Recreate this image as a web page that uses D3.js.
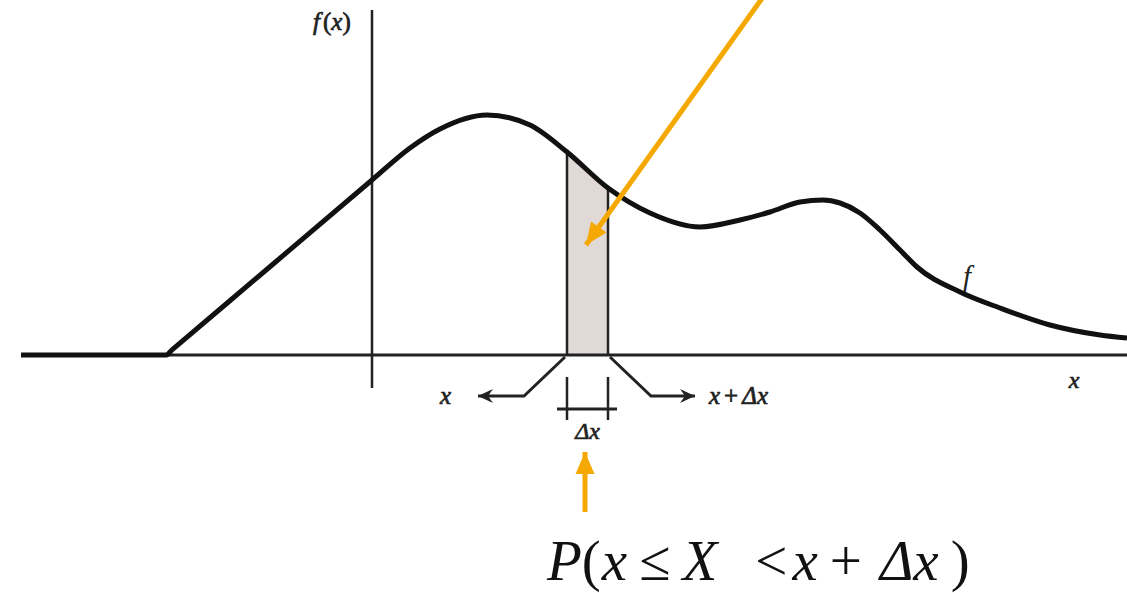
<!DOCTYPE html>
<html>
<head>
<meta charset="utf-8">
<script src="https://cdn.jsdelivr.net/npm/d3@7"></script>
<style>
  body { margin: 0; background: #fff; }
  svg { display: block; }
</style>
</head>
<body>
<svg id="chart" width="1127" height="593"></svg>
<script>
// density curve f(x) (x units arbitrary, f scaled)
var curveX = [-17.55, -10.3, -10.0, -5, 0, 1.9, 3.4, 5.75, 7.9, 9.75, 11.8, 13.9, 16.4, 18.4, 19.9, 21.4, 22.55, 23.4, 24.4, 25.4, 26.4, 27.25, 29.4, 31.4, 33.9, 36.4, 37.75];
var curveF = [0, 0, 0.051, 0.90, 1.75, 2.07, 2.26, 2.40, 2.30, 2.03, 1.67, 1.42, 1.28, 1.35, 1.43, 1.53, 1.55, 1.52, 1.42, 1.25, 1.05, 0.88, 0.63, 0.47, 0.30, 0.20, 0.17];
var band = [9.75, 11.8];           // x .. x + Δx
var axisLabels = ["f(x)", "x", "f"];
// pieces of P(x ≤ X < x + Δx): text, italic?, extra gap before it
var formulaParts = [["P", 1, 0], ["(", 0, 0], ["x", 1, 1], ["\u2264", 0, 12], ["X", 1, 12],
                    ["<", 0, 38], ["x", 1, 5], ["+", 0, 12], ["\u0394x", 1, 18], [")", 0, 12]];

var SERIF = "Liberation Serif";
var svg = d3.select("#chart");
var x = d3.scaleLinear().domain([-17.55, 37.75]).range([21, 1127]);
var y = d3.scaleLinear().domain([0, 3.45]).range([355, 10]);

var data = curveX.map(function(d, i) { return { x: d, f: curveF[i] }; });
function fAt(v) { return curveF[curveX.indexOf(v)]; }

function label(px, py, size, heavy) {
  var t = svg.append("text").attr("x", px).attr("y", py)
    .attr("font-family", SERIF).attr("font-style", "italic")
    .attr("font-size", size).attr("fill", "#222");
  if (heavy) t.attr("stroke", "#222").attr("stroke-width", 0.7);
  return t;
}

var defs = svg.append("defs");
defs.append("clipPath").attr("id", "band")
  .append("rect")
  .attr("x", x(band[0])).attr("y", 0)
  .attr("width", x(band[1]) - x(band[0])).attr("height", y(0));

defs.append("marker").attr("id", "blackHead")
  .attr("markerUnits", "userSpaceOnUse")
  .attr("viewBox", "-16 -8 18 16").attr("refX", 0).attr("refY", 0)
  .attr("markerWidth", 18).attr("markerHeight", 16).attr("orient", "auto")
  .append("path").attr("d", "M0,0 L-15,-7 L-10,0 L-15,7 Z").attr("fill", "#222");

defs.append("marker").attr("id", "orangeHead")
  .attr("markerUnits", "userSpaceOnUse")
  .attr("viewBox", "-24 -11 26 22").attr("refX", 0).attr("refY", 0)
  .attr("markerWidth", 26).attr("markerHeight", 22).attr("orient", "auto")
  .append("path").attr("d", "M0,0 L-22,-9.5 L-22,9.5 Z").attr("fill", "#f5a800");

var area = d3.area().x(function(d) { return x(d.x); }).y0(y(0)).y1(function(d) { return y(d.f); })
  .curve(d3.curveMonotoneX);
var line = d3.line().x(function(d) { return x(d.x); }).y(function(d) { return y(d.f); })
  .curve(d3.curveMonotoneX);

// shaded strip
svg.append("path").datum(data).attr("d", area)
  .attr("clip-path", "url(#band)").attr("fill", "#e0d9d6");

// axes
svg.append("line").attr("x1", x(-17.55)).attr("x2", x(37.75)).attr("y1", y(0)).attr("y2", y(0))
  .attr("stroke", "#222").attr("stroke-width", 3);
svg.append("line").attr("x1", x(0)).attr("x2", x(0)).attr("y1", y(3.45)).attr("y2", y(-0.33))
  .attr("stroke", "#222").attr("stroke-width", 2.5);

// strip edges
svg.selectAll(".edge").data(band).enter().append("line").attr("class", "edge")
  .attr("x1", function(d) { return x(d); }).attr("x2", function(d) { return x(d); })
  .attr("y1", y(0)).attr("y2", function(d) { return y(fAt(d)); })
  .attr("stroke", "#222").attr("stroke-width", 2.5);

// the curve
svg.append("path").datum(data).attr("d", line)
  .attr("fill", "none").attr("stroke", "#111").attr("stroke-width", 5).attr("stroke-linejoin", "round");

// labels
label(313, 30, 25, true)
  .html('f<tspan font-style="normal" dx="3">(</tspan>x<tspan font-style="normal">)</tspan>');
label(1074, 388, 24, true).attr("text-anchor", "middle").text(axisLabels[1]);
label(967, 286, 29, false).attr("text-anchor", "middle").text(axisLabels[2]);

// x / x + Δx callouts
var xl = x(band[0]), xr = x(band[1]), ay = 396;
svg.append("path")
  .attr("d", "M" + (xl - 2) + "," + (y(0) + 2) + " L" + (xl - 43) + "," + ay + " L" + (xl - 89) + "," + ay)
  .attr("fill", "none").attr("stroke", "#222").attr("stroke-width", 3).attr("marker-end", "url(#blackHead)");
svg.append("path")
  .attr("d", "M" + (xr + 2) + "," + (y(0) + 2) + " L" + (xr + 43) + "," + ay + " L" + (xr + 87) + "," + ay)
  .attr("fill", "none").attr("stroke", "#222").attr("stroke-width", 3).attr("marker-end", "url(#blackHead)");
label(xl - 127, 404, 25, true).text("x");
label(xr + 101, 404, 25, true)
  .html('x<tspan font-style="normal" dx="4">+</tspan><tspan dx="4">\u0394x</tspan>');

// Δx bracket
svg.selectAll(".tick").data(band).enter().append("line").attr("class", "tick")
  .attr("x1", function(d) { return x(d); }).attr("x2", function(d) { return x(d); })
  .attr("y1", 377).attr("y2", 420).attr("stroke", "#222").attr("stroke-width", 2.5);
svg.append("line").attr("x1", xl - 10).attr("x2", xr + 9).attr("y1", 409).attr("y2", 409)
  .attr("stroke", "#222").attr("stroke-width", 3);
label((xl + xr) / 2, 439, 24, true).attr("text-anchor", "middle").text("\u0394x");

// orange arrows
svg.append("line").attr("x1", 763).attr("y1", -3).attr("x2", 586).attr("y2", 245)
  .attr("stroke", "#f5a800").attr("stroke-width", 5).attr("marker-end", "url(#orangeHead)");
svg.append("line").attr("x1", 585).attr("y1", 512).attr("x2", 585).attr("y2", 452)
  .attr("stroke", "#f5a800").attr("stroke-width", 5).attr("marker-end", "url(#orangeHead)");

// probability formula
var ft = label(547, 580, 57, false).attr("fill", "#111");
ft.selectAll("tspan").data(formulaParts).enter().append("tspan")
  .attr("dx", function(d) { return d[2]; })
  .attr("font-style", function(d) { return d[1] ? "italic" : "normal"; })
  .text(function(d) { return d[0]; });
</script>
</body>
</html>
